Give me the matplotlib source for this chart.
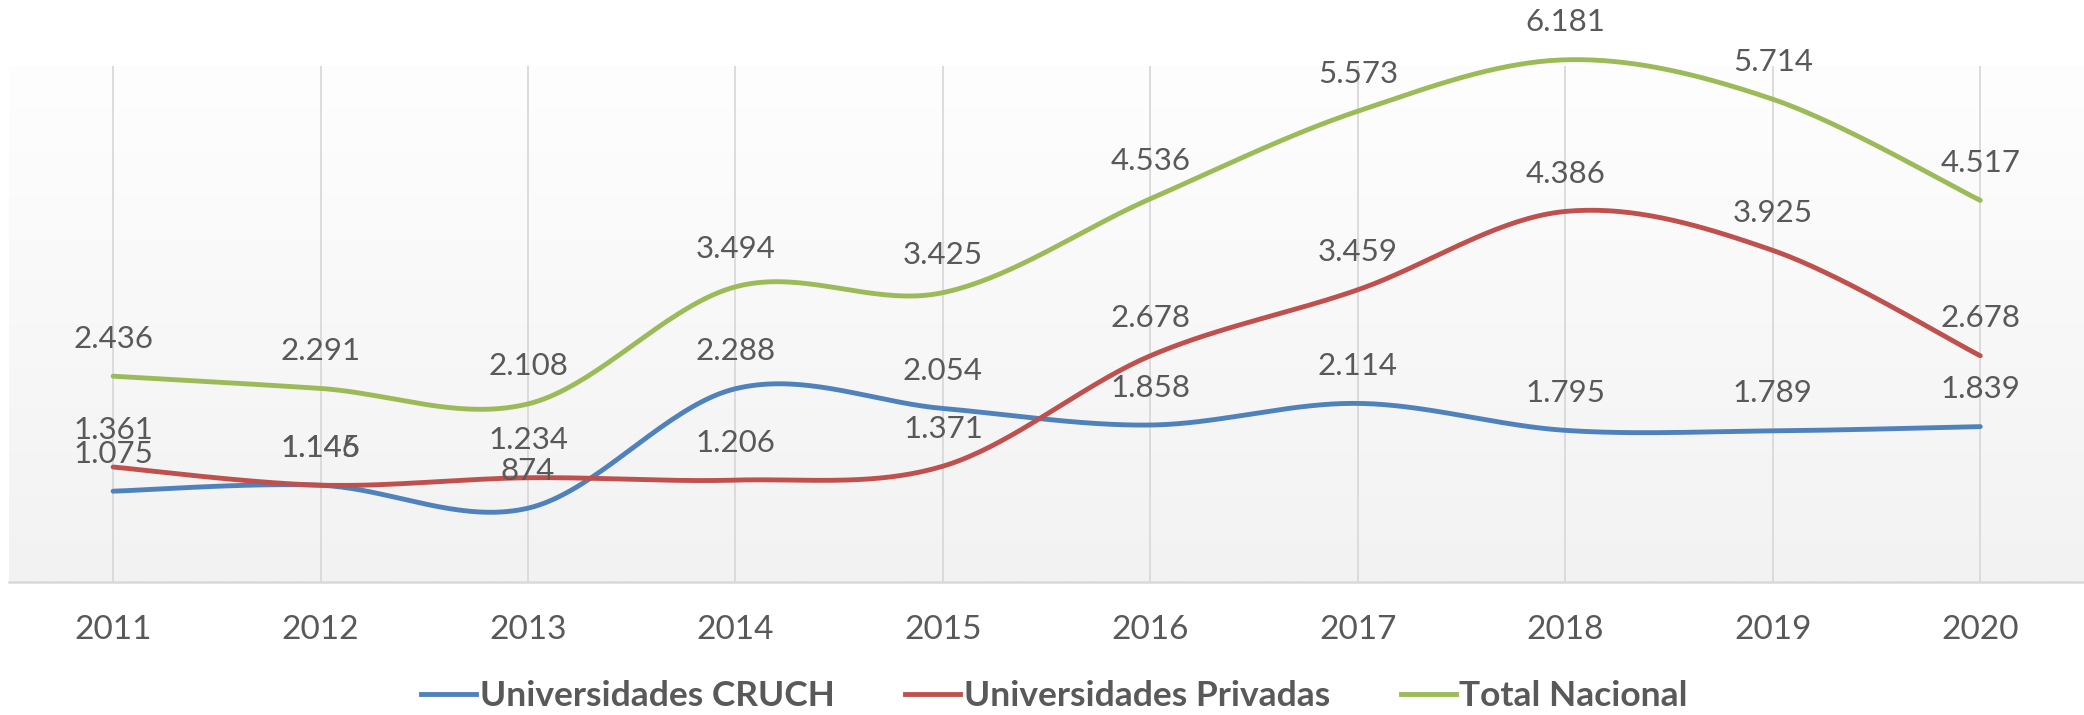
import numpy as np
import matplotlib
matplotlib.use("Agg")
import matplotlib.pyplot as plt
from matplotlib.lines import Line2D

plt.rcParams['font.family'] = ['Lato', 'DejaVu Sans']

# données
years = [2011, 2012, 2013, 2014, 2015, 2016, 2017, 2018, 2019, 2020]
cruch = [1075, 1145, 874, 2288, 2054, 1858, 2114, 1795, 1789, 1839]
privadas = [1361, 1146, 1234, 1206, 1371, 2678, 3459, 4386, 3925, 2678]
total = [2436, 2291, 2108, 3494, 3425, 4536, 5573, 6181, 5714, 4517]
series_names = ["Universidades CRUCH", "Universidades Privadas", "Total Nacional"]
colors = ["#4F81BD", "#C0504D", "#9BBB59"]
text_col = "#595959"


def smooth(x, y, n=40):
    # courbe lissée type Excel (Catmull-Rom / Bezier)
    x = np.asarray(x, float)
    y = np.asarray(y, float)
    px = np.concatenate([[x[0]], x, [x[-1]]])
    py = np.concatenate([[y[0]], y, [y[-1]]])
    xs, ys = [], []
    t = np.linspace(0, 1, n)
    for i in range(1, len(px) - 2):
        p0 = np.array([px[i], py[i]])
        p3 = np.array([px[i + 1], py[i + 1]])
        c1 = p0 + (np.array([px[i + 1], py[i + 1]]) - np.array([px[i - 1], py[i - 1]])) / 6
        c2 = p3 - (np.array([px[i + 2], py[i + 2]]) - np.array([px[i], py[i]])) / 6
        b = ((1 - t) ** 3)[:, None] * p0 + (3 * (1 - t) ** 2 * t)[:, None] * c1 \
            + (3 * (1 - t) * t ** 2)[:, None] * c2 + (t ** 3)[:, None] * p3
        xs.append(b[:, 0])
        ys.append(b[:, 1])
    return np.concatenate(xs), np.concatenate(ys)


def fmt(v):
    return f"{v:,}".replace(",", ".")


fig = plt.figure(figsize=(20.84, 7.15), dpi=100)
# zone de tracé : de y=66 px à y=582 px
ax = fig.add_axes([0.0045, 0.186, 0.9955, 0.722])

ymax = 6110
ax.set_xlim(2010.5, 2020.5)
ax.set_ylim(0, ymax)

# fond en dégradé
grad = np.linspace(1.0, 0.0, 256)[:, None]
ax.imshow(grad, extent=[2010.5, 2020.5, 0, ymax], aspect='auto',
          cmap=matplotlib.colors.LinearSegmentedColormap.from_list("g", ["#f2f2f2", "#fefefe"]),
          origin='upper', zorder=0)

for yr in years:
    ax.axvline(yr, color="#d9d9d9", lw=1.3, zorder=1)

for vals, c in zip([cruch, privadas, total], colors):
    sx, sy = smooth(years, vals)
    ax.plot(sx, sy, color=c, lw=3.5, solid_capstyle='round', zorder=3, clip_on=False)
    for x, v in zip(years, vals):
        ax.annotate(fmt(v), (x, v), xytext=(0, 27), textcoords='offset points',
                    ha='center', va='center', fontsize=22.5, color=text_col, zorder=4,
                    annotation_clip=False)

for s in ["top", "left", "right"]:
    ax.spines[s].set_visible(False)
ax.spines["bottom"].set_color("#d9d9d9")
ax.spines["bottom"].set_linewidth(1.8)
ax.set_yticks([])
ax.set_xticks(years)
ax.set_xticklabels([str(y) for y in years])
ax.tick_params(axis='x', length=0, pad=24, labelsize=24, labelcolor=text_col)

handles = [Line2D([], [], color=c, lw=3.5) for c in colors]
fig.legend(handles, series_names, loc='center', bbox_to_anchor=(0.506, 0.026),
           ncol=3, frameon=False, handlelength=1.55, handletextpad=0.1,
           columnspacing=2.0, prop={'size': 25.5, 'weight': 'bold'},
           labelcolor=text_col)

fig.savefig("out.png", dpi=100)
